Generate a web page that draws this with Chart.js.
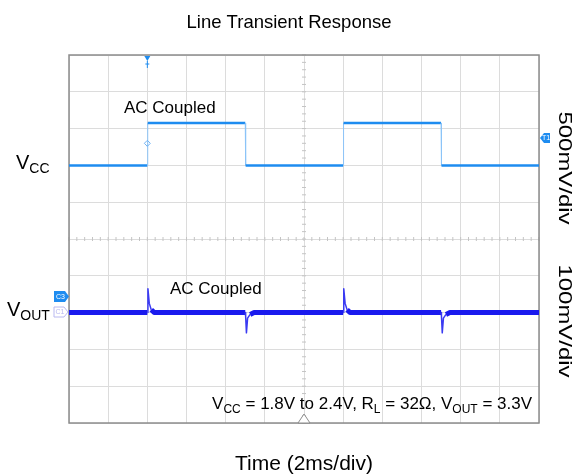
<!DOCTYPE html>
<html>
<head>
<meta charset="utf-8">
<script src="https://cdn.jsdelivr.net/npm/chart.js@4.4.0/dist/chart.umd.min.js"></script>
<style>
  html, body { margin: 0; padding: 0; background: #fff; }
  #wrap { width: 578px; height: 476px; }
</style>
</head>
<body>
<div id="wrap"><canvas id="chart-scope" width="578" height="476"></canvas></div>
<script>
// time in ms (2ms/div, 12 div), level in divisions (10 div)
const vccTime = [0, 4.0, 4.02, 9.0, 9.02, 14.0, 14.02, 19.0, 19.02, 24];
const vccLevel = [7.0, 7.0, 8.15, 8.15, 7.0, 7.0, 8.15, 8.15, 7.0, 7.0];

const voutTime = [0, 4.0, 4.03, 4.1, 4.2, 4.35, 9.0, 9.02, 9.06, 9.12, 9.25, 9.45,
  14.0, 14.03, 14.1, 14.2, 14.35, 19.0, 19.02, 19.06, 19.12, 19.25, 19.45, 24];
const voutLevel = [3.0, 3.0, 3.65, 3.25, 3.08, 3.0, 3.0, 2.9, 2.45, 2.85, 2.95, 3.0,
  3.0, 3.65, 3.25, 3.08, 3.0, 3.0, 2.9, 2.45, 2.85, 2.95, 3.0, 3.0];

const chartTitle = 'Line Transient Response';
const xLabel = 'Time (2ms/div)';
const scaleLabels = ['500mV/div', '100mV/div'];

const toPoints = (xs, ys) => xs.map((x, i) => ({ x: x, y: ys[i] }));

const FONT = '"Liberation Sans", Arial, sans-serif';

// text with subscript parts: [[text, isSub], ...]
const drawSub = (ctx, parts, x, y, size, align) => {
  const sub = Math.round(size * 0.72);
  let w = 0;
  parts.forEach(p => {
    ctx.font = (p[1] ? sub : size) + 'px ' + FONT;
    w += ctx.measureText(p[0]).width;
  });
  let cx = align === 'right' ? x - w : (align === 'center' ? x - w / 2 : x);
  ctx.textAlign = 'left';
  ctx.textBaseline = 'alphabetic';
  parts.forEach(p => {
    ctx.font = (p[1] ? sub : size) + 'px ' + FONT;
    ctx.fillText(p[0], cx, p[1] ? y + size * 0.22 : y);
    cx += ctx.measureText(p[0]).width;
  });
};

const tag = (ctx, x, y, w, h, dir, fill, stroke, txt) => {
  ctx.beginPath();
  if (dir === 'right') {
    ctx.moveTo(x, y); ctx.lineTo(x + w - 4, y); ctx.lineTo(x + w, y + h / 2);
    ctx.lineTo(x + w - 4, y + h); ctx.lineTo(x, y + h);
  } else {
    ctx.moveTo(x + w, y); ctx.lineTo(x + 4, y); ctx.lineTo(x, y + h / 2);
    ctx.lineTo(x + 4, y + h); ctx.lineTo(x + w, y + h);
  }
  ctx.closePath();
  if (fill) { ctx.fillStyle = fill; ctx.fill(); }
  if (stroke) { ctx.strokeStyle = stroke; ctx.lineWidth = 1; ctx.stroke(); }
  ctx.fillStyle = fill ? '#fff' : stroke;
  ctx.font = '7px ' + FONT;
  ctx.textAlign = 'center';
  ctx.textBaseline = 'middle';
  ctx.fillText(txt, x + w / 2 + (dir === 'right' ? -1 : 1), y + h / 2 + 0.5);
};

const flat = c => c.p0.parsed.y === c.p1.parsed.y;
const nearFlat = c => Math.abs(c.p0.parsed.y - c.p1.parsed.y) < 0.1;

const scopeDecor = {
  id: 'scopeDecor',
  beforeDatasetsDraw(chart) {
    const { ctx, chartArea: a, scales } = chart;
    const cx = scales.x.getPixelForValue(12);
    const cy = scales.y.getPixelForValue(5);
    const dx = (scales.x.getPixelForValue(2) - scales.x.getPixelForValue(0)) / 5;
    const dy = (scales.y.getPixelForValue(0) - scales.y.getPixelForValue(1)) / 5;
    ctx.save();
    ctx.strokeStyle = '#c4c4c4';
    ctx.lineWidth = 1;
    ctx.beginPath();
    for (let x = a.left; x <= a.right + 0.5; x += dx) {
      ctx.moveTo(x, cy - 2); ctx.lineTo(x, cy + 2);
    }
    for (let y = a.top; y <= a.bottom + 0.5; y += dy) {
      ctx.moveTo(cx - 2, y); ctx.lineTo(cx + 2, y);
    }
    ctx.stroke();
    ctx.strokeStyle = '#8c8c8c';
    ctx.lineWidth = 1.5;
    ctx.strokeRect(a.left, a.top, a.right - a.left, a.bottom - a.top);
    ctx.restore();
  },
  afterDraw(chart) {
    const { ctx, chartArea: a, scales } = chart;
    const W = chart.width;
    ctx.save();
    ctx.fillStyle = '#000';
    ctx.textAlign = 'center';
    ctx.textBaseline = 'alphabetic';
    ctx.font = '18.5px ' + FONT;
    ctx.fillText(chartTitle, W / 2, 28);
    ctx.font = '21px ' + FONT;
    ctx.fillText(xLabel, (a.left + a.right) / 2, 470);

    // right-side scale labels, rotated clockwise
    ctx.font = '19px ' + FONT;
    [[scaleLabels[0], 168], [scaleLabels[1], 321]].forEach(l => {
      ctx.save();
      ctx.translate(559, l[1]);
      ctx.rotate(Math.PI / 2);
      ctx.scale(1.26, 1);
      ctx.textAlign = 'center';
      ctx.fillText(l[0], 0, 0);
      ctx.restore();
    });

    drawSub(ctx, [['V', false], ['CC', true]], 16, 169, 20, 'left');
    drawSub(ctx, [['V', false], ['OUT', true]], 7, 316, 20, 'left');

    ctx.font = '17px ' + FONT;
    ctx.textAlign = 'left';
    ctx.fillText('AC Coupled', 124, 113);
    ctx.fillText('AC Coupled', 170, 294);

    drawSub(ctx, [['V', false], ['CC', true], [' = 1.8V to 2.4V, R', false], ['L', true],
      [' = 32\u03A9, V', false], ['OUT', true], [' = 3.3V', false]], 532, 409, 17, 'right');

    // markers
    const tx = scales.x.getPixelForValue(vccTime[1]);
    ctx.fillStyle = '#1e8cf0';
    ctx.strokeStyle = '#1e8cf0';
    ctx.beginPath();
    ctx.moveTo(tx - 3, a.top + 1); ctx.lineTo(tx + 3, a.top + 1); ctx.lineTo(tx, a.top + 6);
    ctx.closePath(); ctx.fill();
    ctx.lineWidth = 1;
    ctx.beginPath();
    ctx.moveTo(tx, a.top + 6); ctx.lineTo(tx, a.top + 13);
    ctx.moveTo(tx - 2, a.top + 9); ctx.lineTo(tx + 2, a.top + 9);
    ctx.stroke();
    const dyv = scales.y.getPixelForValue(7.6);
    ctx.strokeStyle = '#6fb3f5';
    ctx.beginPath();
    ctx.moveTo(tx, dyv - 3); ctx.lineTo(tx + 3, dyv); ctx.lineTo(tx, dyv + 3); ctx.lineTo(tx - 3, dyv);
    ctx.closePath(); ctx.stroke();

    tag(ctx, a.right + 1, 133, 10, 10, 'left', '#1e8cf0', null, 'T1');
    tag(ctx, a.left - 15, 291, 15, 11, 'right', '#1e8cf0', null, 'C3');
    tag(ctx, a.left - 15, 307, 14, 10, 'right', null, '#b8b8f0', 'C1');

    ctx.strokeStyle = '#8c8c8c';
    ctx.fillStyle = '#fff';
    ctx.beginPath();
    ctx.moveTo(a.left + (a.right - a.left) / 2, a.bottom - 9);
    ctx.lineTo(a.left + (a.right - a.left) / 2 + 6, a.bottom);
    ctx.lineTo(a.left + (a.right - a.left) / 2 - 6, a.bottom);
    ctx.closePath(); ctx.fill(); ctx.stroke();
    ctx.restore();
  }
};

new Chart(document.getElementById('chart-scope'), {
  type: 'line',
  data: {
    datasets: [
      {
        label: 'VCC',
        data: toPoints(vccTime, vccLevel),
        borderColor: '#1e8cf0',
        borderWidth: 2.5,
        pointRadius: 0,
        tension: 0,
        segment: {
          borderWidth: c => flat(c) ? 2.5 : 1,
          borderColor: c => flat(c) ? '#1e8cf0' : '#8cc4f8'
        }
      },
      {
        label: 'VOUT',
        data: toPoints(voutTime, voutLevel),
        borderColor: '#1414f0',
        borderWidth: 4,
        pointRadius: 0,
        tension: 0,
        borderJoinStyle: 'round',
        segment: {
          borderWidth: c => nearFlat(c) ? 5 : 1.5,
          borderColor: c => nearFlat(c) ? '#1a1aee' : '#3a3af2'
        }
      }
    ]
  },
  options: {
    responsive: false,
    animation: false,
    events: [],
    layout: { padding: { left: 69, right: 39, top: 55, bottom: 53 } },
    plugins: { legend: { display: false }, tooltip: { enabled: false }, title: { display: false } },
    scales: {
      x: {
        type: 'linear',
        min: 0, max: 24,
        ticks: { display: false, stepSize: 2 },
        grid: { color: '#dcdcdc', drawTicks: false, lineWidth: 1 },
        border: { display: false }
      },
      y: {
        type: 'linear',
        min: 0, max: 10,
        ticks: { display: false, stepSize: 1 },
        grid: { color: '#dcdcdc', drawTicks: false, lineWidth: 1 },
        border: { display: false }
      }
    }
  },
  plugins: [scopeDecor]
});
</script>
</body>
</html>
